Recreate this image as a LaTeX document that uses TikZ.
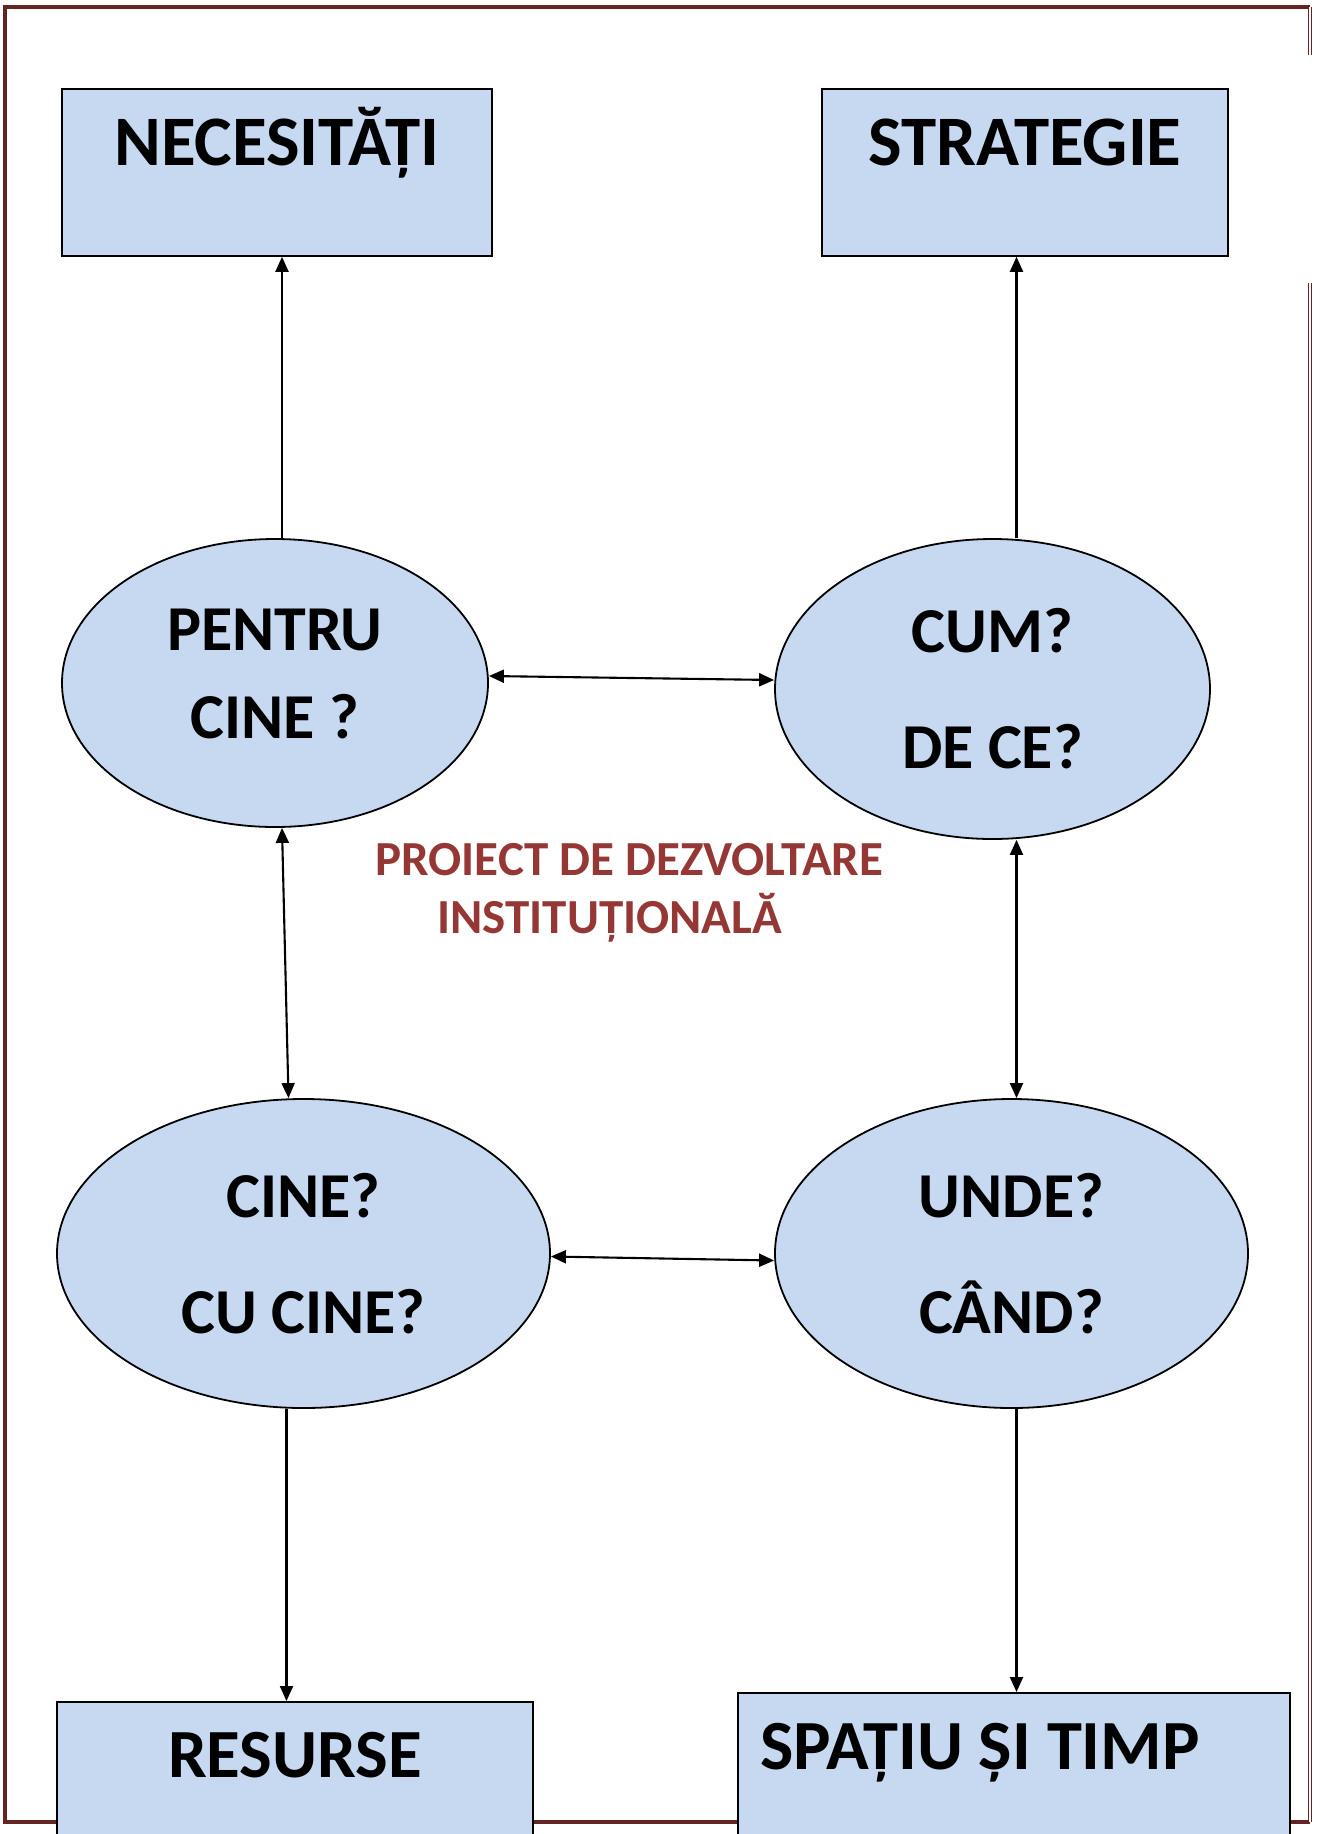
\documentclass[tikz,border=0pt]{standalone}
\usepackage{fontspec}
\setmainfont{Carlito}
\usepackage{xcolor}
\usetikzlibrary{arrows.meta, positioning}
\usetikzlibrary{shapes.geometric}
\definecolor{boxblue}{RGB}{198,217,241}
\definecolor{framered}{RGB}{99,36,35}
\definecolor{titlered}{RGB}{149,55,53}
\tikzstyle{arrow} = [line width=2.1pt, -{Triangle[length=15pt,width=13pt]}]
\tikzstyle{twoway} = [line width=2.1pt, {Triangle[length=15pt,width=13pt]}-{Triangle[length=15pt,width=13pt]}]
\tikzstyle{topbox} = [rectangle, draw, line width=1.8pt, fill=boxblue, anchor=north, inner xsep=0pt, inner ysep=0pt, font=\fontsize{71}{85}\selectfont\bfseries]
\tikzstyle{question} = [ellipse, draw, line width=1.8pt, fill=boxblue, inner sep=0pt, align=center]

\begin{document}
\begin{tikzpicture}[x=1pt, y=-1pt, >=Stealth]
\useasboundingbox (0,0) rectangle (1320,1834);
\clip (0,0) rectangle (1320,1834);

% page frame
\draw[framered, line width=3.5pt] (1310,7) -- (5,7) -- (5,1822) -- (1310,1822);
\draw[framered, line width=1.3pt, double=white, double distance=1.6pt] (1310,7) -- (1310,55);
\draw[framered, line width=1.3pt, double=white, double distance=1.6pt] (1310,283) -- (1310,1822);

% the four boxes
\node[topbox, minimum width=430pt, text height=77pt, text depth=90pt] (needs) at (277,88) {NECESITĂȚI};
\node[topbox, minimum width=406pt, text height=77pt, text depth=90pt] (strategy) at (1025,88) {STRATEGIE};
\node[topbox, minimum width=476pt, text height=76pt, text depth=160pt, font=\fontsize{69}{83}\selectfont\bfseries] (resources) at (295,1701) {RESURSE};
\node[topbox, text width=508pt, inner xsep=22pt, align=flush left, text height=77pt, text depth=160pt, font=\fontsize{70.5}{84}\selectfont\bfseries] (space) at (1014,1692) {SPAȚIU ȘI TIMP};

% the four questions
\node[question, minimum width=426pt, minimum height=288pt, font=\fontsize{64}{88}\selectfont\bfseries] (pentru) at (275,683) {PENTRU\\CINE ?\rule[-18pt]{0pt}{0pt}};
\node[question, minimum width=435pt, minimum height=300pt, font=\fontsize{64}{116}\selectfont\bfseries] (cum) at (992.5,689) {CUM?\\DE CE?};
\node[question, minimum width=493pt, minimum height=309pt, font=\fontsize{64}{116}\selectfont\bfseries] (cine) at (303.5,1253.5) {CINE?\\CU CINE?};
\node[question, minimum width=473pt, minimum height=309pt, font=\fontsize{64}{116}\selectfont\bfseries] (unde) at (1011.5,1253.5) {UNDE?\\CÂND?};

% title in the middle
\node[align=flush left, anchor=west, text=titlered, font=\fontsize{49}{58}\selectfont\bfseries] (title) at (372,893) {PROIECT DE DEZVOLTARE\\\hspace*{62pt}INSTITUȚIONALĂ};

% connectors
\draw[arrow] ([xshift=7pt]pentru.north) -- ([xshift=7pt]pentru.north |- needs.south);
\draw[arrow] ([xshift=24pt]cum.north) -- ([xshift=24pt]cum.north |- strategy.south);
\draw[twoway] ([yshift=7pt]pentru.east) -- ([yshift=9pt]cum.west);
\draw[twoway] ([xshift=7pt]pentru.south) -- ([xshift=-15pt]cine.north);
\draw[twoway] ([xshift=24pt]cum.south) -- ([xshift=5pt]unde.north);
\draw[twoway] ([yshift=-3pt]cine.east) -- ([yshift=-7pt]unde.west);
\draw[arrow] ([xshift=-17pt]cine.south) -- ([xshift=-17pt]cine.south |- resources.north);
\draw[arrow] ([xshift=5pt]unde.south) -- ([xshift=5pt]unde.south |- space.north);

\end{tikzpicture}
\end{document}
